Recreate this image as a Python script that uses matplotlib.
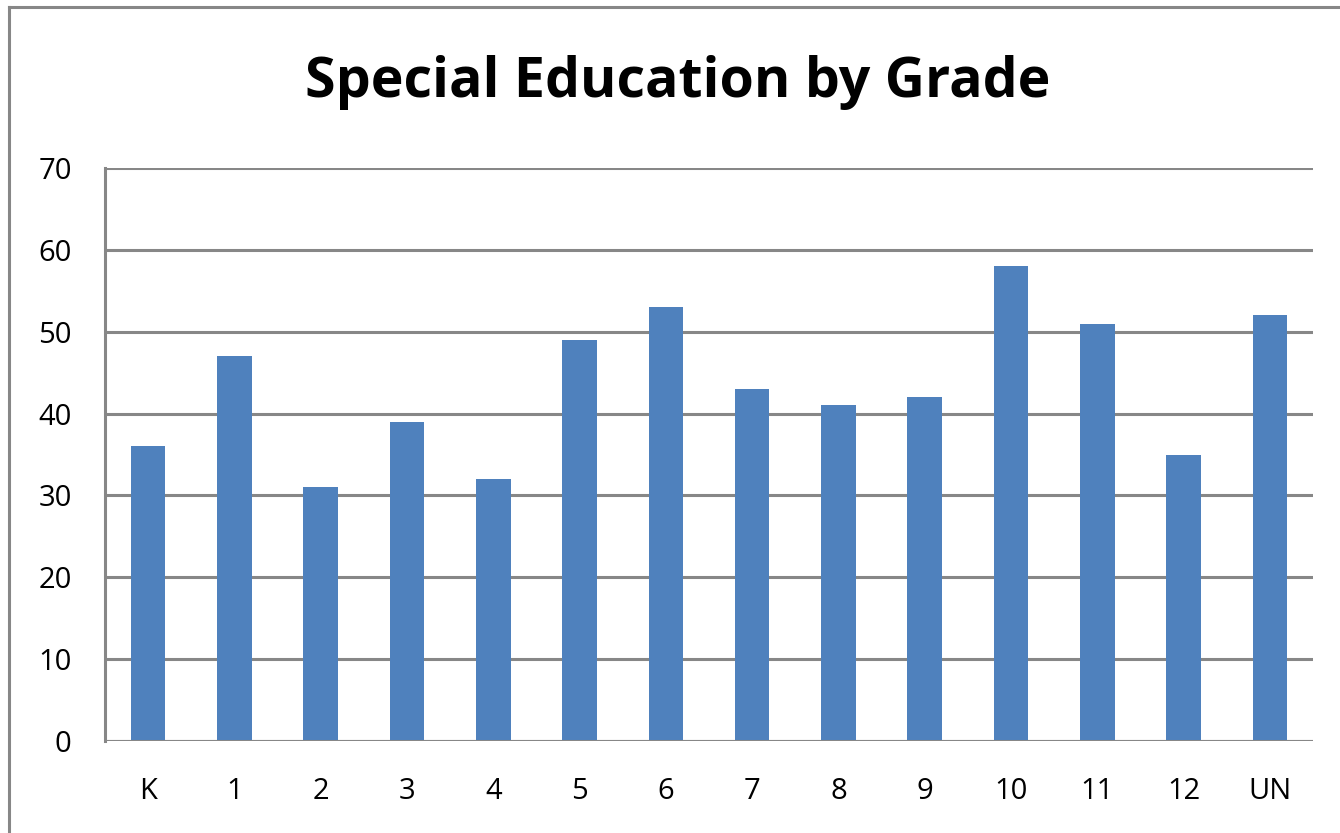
import matplotlib
matplotlib.use("Agg")
import matplotlib.pyplot as plt
from matplotlib.lines import Line2D

categories = ["K", "1", "2", "3", "4", "5", "6", "7", "8", "9", "10", "11", "12", "UN"]
values = [36, 47, 31, 39, 32, 49, 53, 43, 41, 42, 58, 51, 35, 52]
yticks = [0, 10, 20, 30, 40, 50, 60, 70]
title = "Special Education by Grade"

W, H = 1340, 833
fig = plt.figure(figsize=(W / 100, H / 100), dpi=100)
plt.rcParams['font.family'] = ['Open Sans', 'DejaVu Sans']

gray = "#878787"
# axes in pixel coordinates: left 105, right 1313, top 168, bottom 741
ax = fig.add_axes([105 / W, 1 - 741 / H, (1313 - 105) / W, (741 - 168) / H])
x = list(range(len(categories)))
ax.bar(x, values, width=0.4, color="#4F81BD", zorder=3)
ax.set_xlim(-0.5, len(categories) - 0.5)
ax.set_ylim(0, 70)
ax.set_yticks(yticks)
ax.set_yticklabels([str(t) for t in yticks])
ax.set_xticks(x)
ax.set_xticklabels(categories)
ax.grid(axis="y", color=gray, linewidth=2.2, zorder=1)
for s in ["top", "right", "bottom"]:
    ax.spines[s].set_visible(False)
ax.spines["left"].set_color(gray)
ax.spines["left"].set_linewidth(2.2)
ax.tick_params(axis="both", length=0, labelsize=21, colors="black")
ax.tick_params(axis="y", pad=24)
ax.tick_params(axis="x", pad=26)
ax.axhline(0, color=gray, linewidth=2.2, zorder=4)

fig.text(678 / W, 1 - 82 / H, title, ha="center", va="center",
         fontsize=40, fontweight="bold", color="black")

# outer chart border (left and top visible)
fig.add_artist(Line2D([9 / W, 9 / W], [0, 1 - 6.5 / H], color=gray, linewidth=2.2,
                      transform=fig.transFigure))
fig.add_artist(Line2D([9 / W, 1], [1 - 6.5 / H, 1 - 6.5 / H], color=gray, linewidth=2.2,
                      transform=fig.transFigure))

fig.savefig("out.png", dpi=100, facecolor="white")
